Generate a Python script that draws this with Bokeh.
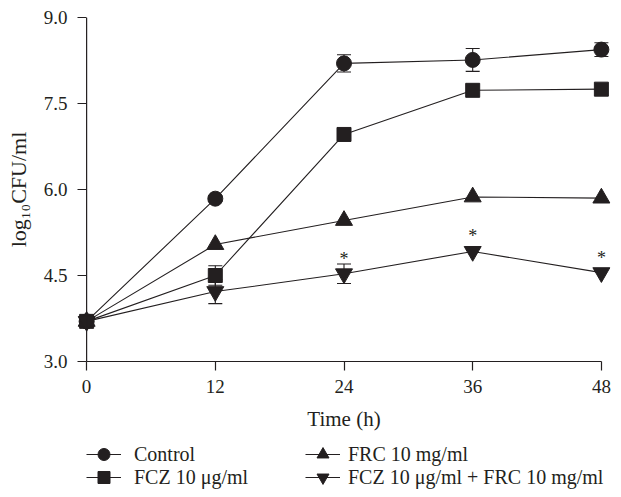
import numpy as np
from bokeh.plotting import figure
from bokeh.layouts import column
from bokeh.models import (ColumnDataSource, Whisker, TeeHead, Legend, LegendItem,
                          Span, FixedTicker, Range1d, PrintfTickFormatter)
from bokeh.embed import file_html
from bokeh.resources import INLINE
from bokeh.core.properties import value

# ---- data ----
times = [0, 12, 24, 36, 48]
control = [3.70, 5.84, 8.20, 8.26, 8.44]
control_err = [0.0, 0.05, 0.15, 0.20, 0.12]
fcz = [3.70, 4.50, 6.96, 7.73, 7.75]
fcz_err = [0.0, 0.17, 0.05, 0.0, 0.0]
frc = [3.70, 5.04, 5.46, 5.87, 5.85]
frc_err = [0.0, 0.0, 0.0, 0.0, 0.0]
combo = [3.70, 4.22, 4.53, 4.92, 4.55]
combo_err = [0.0, 0.21, 0.17, 0.0, 0.0]
star_times = [24, 36, 48]
y_ticks = [3.0, 4.5, 6.0, 7.5, 9.0]
labels = ["Control", "FCZ 10 \u03bcg/ml", "FRC 10 mg/ml", "FCZ 10 \u03bcg/ml + FRC 10 mg/ml"]

INK = "#231f20"
FONT = "Liberation Serif"

p = figure(frame_width=533, frame_height=344,
           x_range=Range1d(-0.85, 48.85), y_range=Range1d(3, 9),
           output_backend="svg", toolbar_location=None,
           min_border_left=77, min_border_right=2, min_border_top=17,
           min_border_bottom=78)
p.outline_line_color = None
p.grid.visible = False
p.background_fill_color = "white"

# x axis
xa = p.xaxis[0]
xa.bounds = (times[0], times[-1])
xa.ticker = FixedTicker(ticks=times)
xa.minor_tick_line_color = None
xa.major_tick_out = 9
xa.major_tick_in = 0
xa.major_label_standoff = 9
xa.axis_line_color = INK
xa.major_tick_line_color = INK
xa.axis_line_width = 1.2
xa.major_tick_line_width = 1.2
xa.major_label_text_font = FONT
xa.major_label_text_font_size = "19px"
xa.major_label_text_color = INK
xa.axis_label = "Time (h)"
xa.axis_label_text_font = FONT
xa.axis_label_text_font_size = "21px"
xa.axis_label_text_font_style = "normal"
xa.axis_label_text_color = INK
xa.axis_label_standoff = 11

# y axis (line drawn as span at x=0, ticks point inward from the frame edge)
ya = p.yaxis[0]
ya.ticker = FixedTicker(ticks=y_ticks)
ya.formatter = PrintfTickFormatter(format="%.1f")
ya.minor_tick_line_color = None
ya.axis_line_color = None
ya.major_tick_in = 9
ya.major_tick_out = 0
ya.major_tick_line_color = INK
ya.major_tick_line_width = 1.2
ya.major_label_standoff = 10
ya.major_label_text_font = FONT
ya.major_label_text_font_size = "19px"
ya.major_label_text_color = INK
ya.axis_label = "log\u2081\u2080CFU/ml"
ya.axis_label_text_font = FONT
ya.axis_label_text_font_size = "22px"
ya.axis_label_text_font_style = "normal"
ya.axis_label_text_color = INK
ya.axis_label_standoff = 10

p.add_layout(Span(location=times[0], dimension="height", line_color=INK, line_width=1.2))

series = [
    (control, control_err, "circle", 15),
    (fcz, fcz_err, "square", 14),
    (frc, frc_err, "triangle", 17),
    (combo, combo_err, "inverted_triangle", 17),
]

# legend lives in a small companion figure placed under the chart
p2 = figure(frame_width=540, frame_height=56, x_range=(0, 1), y_range=(0, 1),
            output_backend="svg", toolbar_location=None,
            x_axis_location=None, y_axis_location=None,
            min_border_left=77, min_border_right=0, min_border_top=0,
            min_border_bottom=0)
p2.outline_line_color = None
p2.grid.visible = False

# legend slot placement (screen px inside the legend strip): col x, row y, label gap
legend_slots = [(9, 26, 13), (9, 3, 13), (228, 26, 8), (228, 3, 8)]

for (vals, errs, marker, size), lab, (lx, ly, lgap) in zip(series, labels, legend_slots):
    src = ColumnDataSource(dict(x=times, y=vals))
    p.line("x", "y", source=src, line_color=INK, line_width=1.1)
    v = np.array(vals)
    e = np.array(errs)
    m = e > 0
    if m.any():
        wsrc = ColumnDataSource(dict(x=np.array(times)[m], lo=(v - e)[m], hi=(v + e)[m]))
        w = Whisker(source=wsrc, base="x", lower="lo", upper="hi", dimension="height",
                    line_color=INK, line_width=1.1,
                    upper_head=TeeHead(size=14, line_color=INK, line_width=1.1),
                    lower_head=TeeHead(size=14, line_color=INK, line_width=1.1))
        p.add_layout(w)
    p.scatter("x", "y", source=src, marker=marker, size=size,
              fill_color=INK, line_color=INK)
    # same data drawn in the legend strip falls outside its ranges (clipped);
    # it only serves as the swatch for the legend entry
    lr2 = p2.line("x", "y", source=src, line_color=INK, line_width=1.1)
    sr2 = p2.scatter("x", "y", source=src, marker=marker, size=size,
                     fill_color=INK, line_color=INK)
    lg = Legend(items=[LegendItem(label=lab, renderers=[lr2, sr2])],
                location=(lx, ly), glyph_width=35, glyph_height=30,
                label_standoff=lgap, padding=0, margin=0, spacing=0,
                border_line_color=None, background_fill_alpha=0,
                label_text_font=FONT, label_text_font_size="20px",
                label_text_color=INK)
    p2.add_layout(lg)

# significance marks
star_y = [combo[times.index(t)] for t in star_times]
p.text(x=star_times, y=star_y, text=["*"] * len(star_times),
       text_font=value(FONT), text_font_size="18px", text_color=INK,
       text_align="center", text_baseline="middle", y_offset=-15)

layout = column(p, p2, spacing=0)
open("out.html", "w").write(file_html(layout, INLINE))
